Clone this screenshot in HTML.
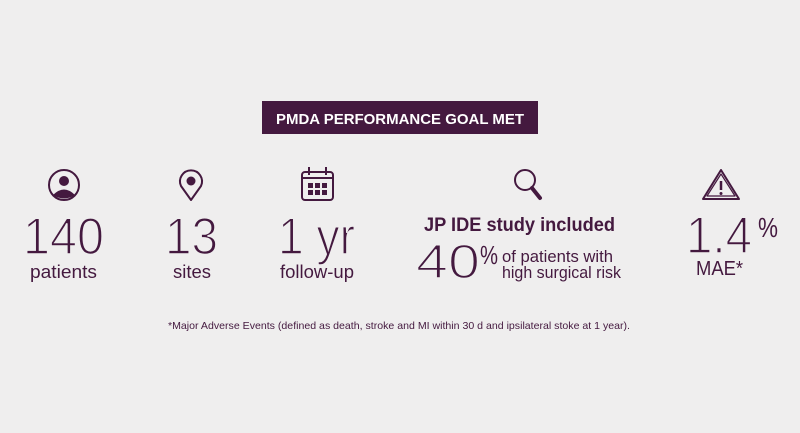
<!DOCTYPE html>
<html><head><meta charset="utf-8"><style>
html,body{margin:0;padding:0;background:#efeeee;}
svg{display:block}
text{font-family:"Liberation Sans",sans-serif;fill:#44193f}
.thin{stroke:#efeeee;stroke-width:1.6px}
</style></head><body>
<svg width="800" height="433" viewBox="0 0 800 433">
<rect width="800" height="433" fill="#efeeee"/>
<rect x="262" y="101" width="276" height="33" fill="#44193f"/>
<text x="400" y="124" text-anchor="middle" font-size="15" font-weight="bold" style="fill:#fff" textLength="248" lengthAdjust="spacingAndGlyphs">PMDA PERFORMANCE GOAL MET</text>

<circle cx="64" cy="185" r="15" fill="none" stroke="#44193f" stroke-width="2"/>
<circle cx="64" cy="181" r="5" fill="#44193f"/>
<path d="M53 195 Q64 184 75 195 Q64 202 53 195Z" fill="#44193f"/>
<path d="M191 200 L181 186 A11 11 0 1 1 201 186 Z" fill="none" stroke="#44193f" stroke-width="2" stroke-linejoin="round"/>
<circle cx="191" cy="181" r="4.5" fill="#44193f"/>
<rect x="302" y="172" width="31" height="28" rx="3" fill="none" stroke="#44193f" stroke-width="2"/>
<line x1="302" y1="178" x2="333" y2="178" stroke="#44193f" stroke-width="2"/>
<line x1="309" y1="167" x2="309" y2="175" stroke="#44193f" stroke-width="2"/>
<line x1="326" y1="167" x2="326" y2="175" stroke="#44193f" stroke-width="2"/>
<g fill="#44193f"><rect x="308" y="183" width="5" height="5"/><rect x="315" y="183" width="5" height="5"/><rect x="322" y="183" width="5" height="5"/><rect x="308" y="190" width="5" height="5"/><rect x="315" y="190" width="5" height="5"/><rect x="322" y="190" width="5" height="5"/></g>
<circle cx="525" cy="180" r="10" fill="none" stroke="#44193f" stroke-width="2"/>
<line x1="532" y1="188" x2="540" y2="198" stroke="#44193f" stroke-width="4" stroke-linecap="round"/>
<path d="M721 170 L739 199 L703 199 Z" fill="none" stroke="#44193f" stroke-width="2" stroke-linejoin="round"/>
<path d="M721 174 L735 196 L707 196 Z" fill="none" stroke="#44193f" stroke-width="1.2" stroke-linejoin="round"/>
<line x1="721" y1="181" x2="721" y2="190" stroke="#44193f" stroke-width="2.5"/>
<circle cx="721" cy="193.5" r="1.5" fill="#44193f"/>

<text class="thin" x="23" y="254" font-size="52" textLength="81" lengthAdjust="spacingAndGlyphs">140</text>
<text x="30" y="278" font-size="18" textLength="67" lengthAdjust="spacingAndGlyphs">patients</text>
<text class="thin" x="165" y="254" font-size="52" textLength="53" lengthAdjust="spacingAndGlyphs">13</text>
<text x="173" y="278" font-size="18" textLength="38" lengthAdjust="spacingAndGlyphs">sites</text>
<text class="thin" x="278" y="254" font-size="52" textLength="77" lengthAdjust="spacingAndGlyphs">1 yr</text>
<text x="280" y="278" font-size="18" textLength="74" lengthAdjust="spacingAndGlyphs">follow-up</text>

<text x="424" y="231" font-size="19" font-weight="bold" textLength="191" lengthAdjust="spacingAndGlyphs">JP IDE study included</text>
<text class="thin" x="416" y="278" font-size="48" textLength="64" lengthAdjust="spacingAndGlyphs">40</text>
<text x="480" y="264" font-size="26" textLength="18" lengthAdjust="spacingAndGlyphs">%</text>
<text x="502" y="262" font-size="17" textLength="111" lengthAdjust="spacingAndGlyphs">of patients with</text>
<text x="502" y="278" font-size="17" textLength="119" lengthAdjust="spacingAndGlyphs">high surgical risk</text>

<text class="thin" x="686" y="253" font-size="52" textLength="66" lengthAdjust="spacingAndGlyphs">1.4</text>
<text x="758" y="237" font-size="28" textLength="20" lengthAdjust="spacingAndGlyphs">%</text>
<text x="696" y="275" font-size="20" textLength="47" lengthAdjust="spacingAndGlyphs">MAE*</text>

<text x="168" y="329" font-size="10.5" textLength="462" lengthAdjust="spacingAndGlyphs">*Major Adverse Events (defined as death, stroke and MI within 30 d and ipsilateral stoke at 1 year).</text>
</svg>
</body></html>
